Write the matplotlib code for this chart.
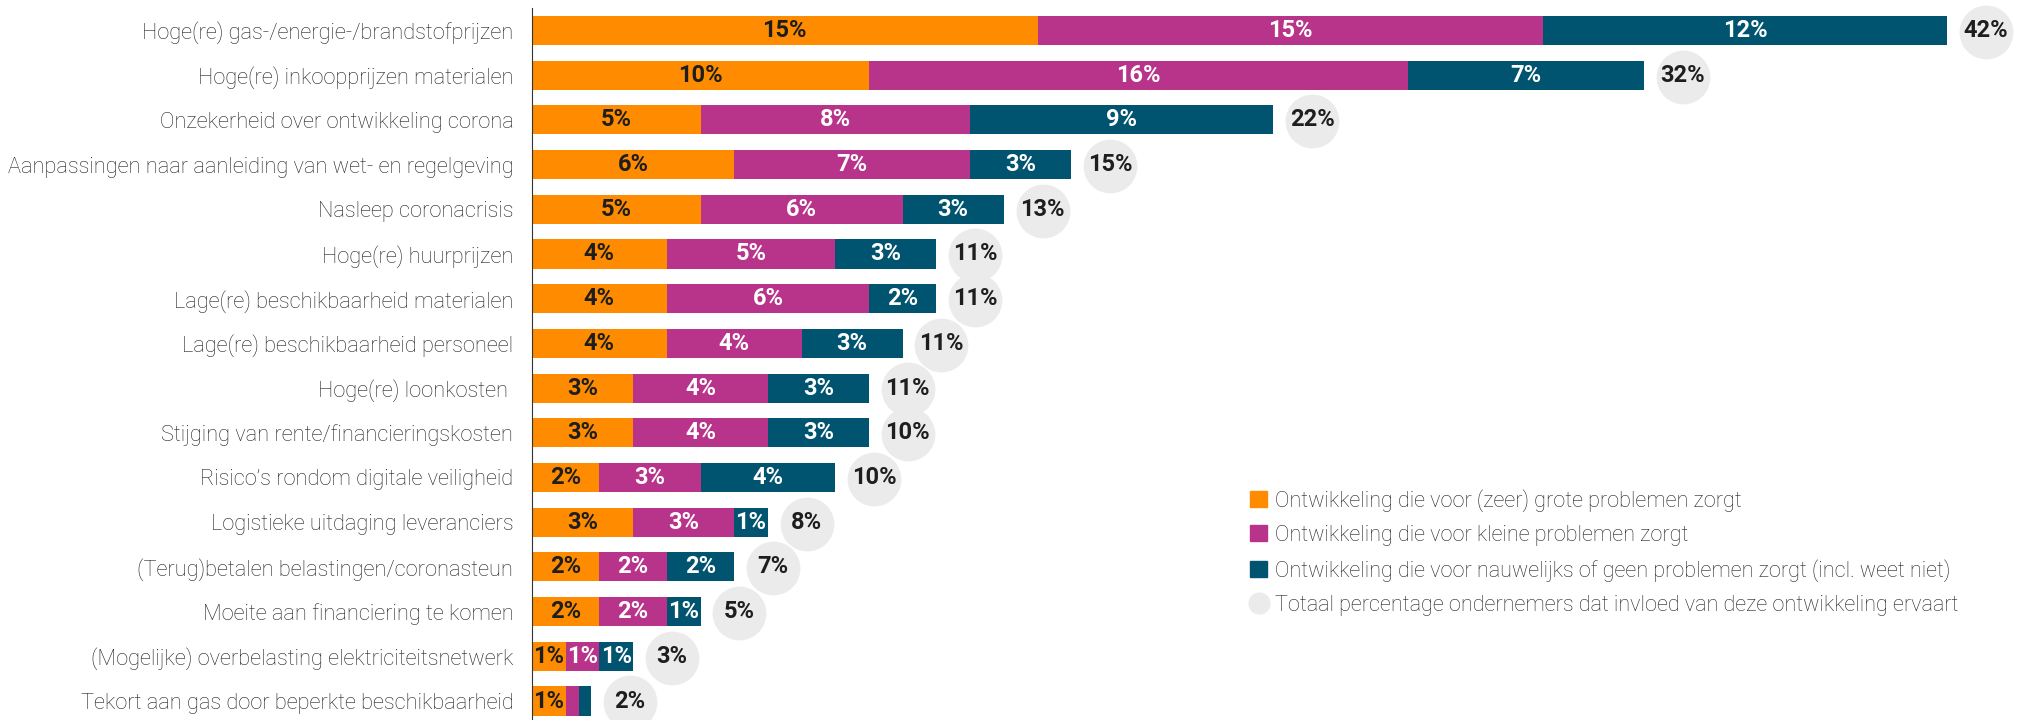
import matplotlib.pyplot as plt
from matplotlib.patches import Patch
from matplotlib.lines import Line2D
import numpy as np

# invloed van ontwikkelingen op ondernemers (%)
categories = [
    "Hoge(re) gas-/energie-/brandstofprijzen",
    "Hoge(re) inkoopprijzen materialen",
    "Onzekerheid over ontwikkeling corona",
    "Aanpassingen naar aanleiding van wet- en regelgeving",
    "Nasleep coronacrisis",
    "Hoge(re) huurprijzen",
    "Lage(re) beschikbaarheid materialen",
    "Lage(re) beschikbaarheid personeel",
    "Hoge(re) loonkosten ",
    "Stijging van rente/financieringskosten",
    "Risico\u2019s rondom digitale veiligheid",
    "Logistieke uitdaging leveranciers",
    "(Terug)betalen belastingen/coronasteun",
    "Moeite aan financiering te komen",
    "(Mogelijke) overbelasting elektriciteitsnetwerk",
    "Tekort aan gas door beperkte beschikbaarheid",
]
groot = [15, 10, 5, 6, 5, 4, 4, 4, 3, 3, 2, 3, 2, 2, 1, 1]
klein = [15, 16, 8, 7, 6, 5, 6, 4, 4, 4, 3, 3, 2, 2, 1, 0.4]
nauwelijks = [12, 7, 9, 3, 3, 3, 2, 3, 3, 3, 4, 1, 2, 1, 1, 0.35]
totaal = [42, 32, 22, 15, 13, 11, 11, 11, 11, 10, 10, 8, 7, 5, 3, 2]

legend_labels = [
    "Ontwikkeling die voor (zeer) grote problemen zorgt",
    "Ontwikkeling die voor kleine problemen zorgt",
    "Ontwikkeling die voor nauwelijks of geen problemen zorgt (incl. weet niet)",
    "Totaal percentage ondernemers dat invloed van deze ontwikkeling ervaart",
]

ORANJE = "#FF8C00"
PAARS = "#B8348B"
BLAUW = "#00546F"
GRIJS = "#EBEBEB"
DONKER = "#1E1E1E"

plt.rcParams['font.family'] = ['Roboto', 'DejaVu Sans']

fig = plt.figure(figsize=(20.17, 7.2), dpi=100)
ax = fig.add_axes([532 / 2017, 0, 1 - 532 / 2017, 1])

y = np.arange(len(categories))
groot = np.array(groot, dtype=float)
klein = np.array(klein, dtype=float)
nauwelijks = np.array(nauwelijks, dtype=float)

h = 0.65
series = [(groot, 0, ORANJE, DONKER), (klein, groot, PAARS, "white"),
          (nauwelijks, groot + klein, BLAUW, "white")]
for vals, left, col, tcol in series:
    bars = ax.barh(y, vals, left=left, height=h, color=col, linewidth=0)
    labels = [f"{v:g}%" if v >= 1 else "" for v in vals]
    ax.bar_label(bars, labels=labels, label_type='center', color=tcol,
                 fontsize=17, fontweight='bold')

# grijze cirkels met totaal rechts van de balk
ends = groot + klein + nauwelijks
xc = ends + 1.15
ax.scatter(xc, y + 0.03, s=1500, color=GRIJS, linewidths=0, zorder=3)
for xi, yi, t in zip(xc, y, totaal):
    ax.text(xi, yi, f"{t}%", ha='center', va='center', fontsize=17,
            fontweight='bold', color=DONKER, zorder=4)

ax.set_xlim(0, (2017 - 532) / 33.7)
ax.set_ylim(15.425, -0.682)
ax.set_yticks(y)
ax.set_yticklabels(categories, fontsize=15.7, fontweight='light', color='#222222')
ax.tick_params(axis='y', length=0, pad=13.5)
ax.set_xticks([])
for s in ['top', 'right', 'bottom']:
    ax.spines[s].set_visible(False)
ax.spines['left'].set_bounds(-0.5, 15.425)
ax.spines['left'].set_color('#333333')
ax.spines['left'].set_linewidth(0.8)

handles = [Patch(color=ORANJE), Patch(color=PAARS), Patch(color=BLAUW),
           Line2D([], [], marker='o', linestyle='none', markersize=16,
                  markerfacecolor=GRIJS, markeredgewidth=0)]
fig.legend(handles, legend_labels, loc='upper left',
           bbox_to_anchor=(1250 / 2017, 1 - 489 / 720), frameon=False,
           prop={'size': 15.6, 'weight': 'light'}, borderpad=0, borderaxespad=0,
           handlelength=0.79, handleheight=0.79, handletextpad=0.37,
           labelspacing=0.6, labelcolor='#222222')

fig.savefig("out.png", dpi=100)
